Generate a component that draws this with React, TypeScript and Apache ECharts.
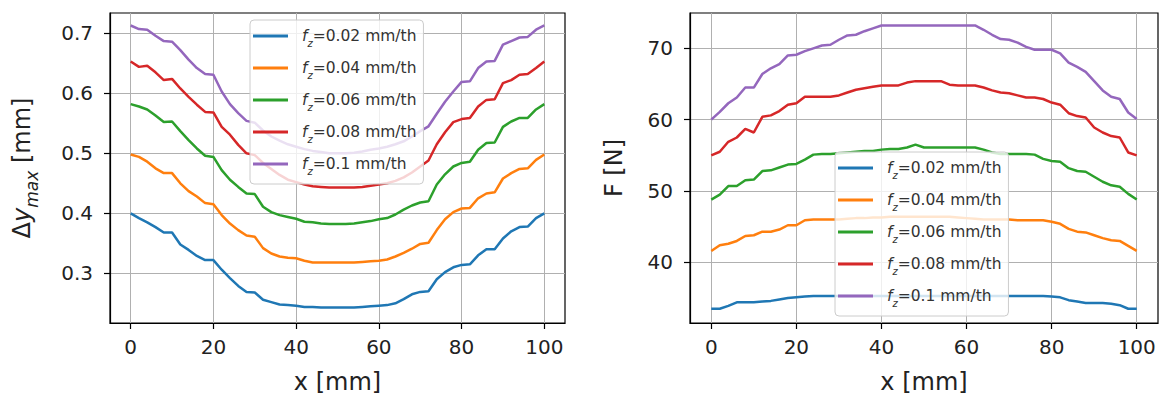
import React, { useEffect, useRef } from "react";
import * as echarts from "echarts";

const xPositions = [0, 2, 4, 6, 8, 10, 12, 14, 16, 18, 20, 22, 24, 26, 28, 30, 32, 34, 36, 38, 40, 42, 44, 46, 48, 50, 52, 54, 56, 58, 60, 62, 64, 66, 68, 70, 72, 74, 76, 78, 80, 82, 84, 86, 88, 90, 92, 94, 96, 98, 100];

const feedLabels = ["fz=0.02 mm/th", "fz=0.04 mm/th", "fz=0.06 mm/th", "fz=0.08 mm/th", "fz=0.1 mm/th"];
const colors = ["#1f77b4", "#ff7f0e", "#2ca02c", "#d62728", "#9467bd"];

// Δy_max [mm]
const dy002 = [0.400, 0.392, 0.385, 0.377, 0.368, 0.368, 0.348, 0.339, 0.329, 0.322, 0.322, 0.306, 0.292, 0.279, 0.269, 0.268, 0.256, 0.252, 0.248, 0.247, 0.246, 0.244, 0.244, 0.243, 0.243, 0.243, 0.243, 0.243, 0.244, 0.245, 0.246, 0.247, 0.250, 0.257, 0.265, 0.269, 0.270, 0.290, 0.302, 0.310, 0.314, 0.315, 0.330, 0.340, 0.340, 0.358, 0.370, 0.377, 0.378, 0.392, 0.400];
const dy004 = [0.498, 0.494, 0.486, 0.475, 0.467, 0.467, 0.450, 0.437, 0.428, 0.417, 0.415, 0.397, 0.383, 0.372, 0.363, 0.361, 0.342, 0.333, 0.328, 0.326, 0.325, 0.321, 0.318, 0.318, 0.318, 0.318, 0.318, 0.318, 0.319, 0.320, 0.321, 0.323, 0.328, 0.334, 0.341, 0.349, 0.351, 0.372, 0.390, 0.402, 0.408, 0.409, 0.425, 0.433, 0.435, 0.458, 0.467, 0.474, 0.475, 0.489, 0.498];
const dy006 = [0.582, 0.578, 0.573, 0.563, 0.552, 0.553, 0.537, 0.522, 0.508, 0.496, 0.494, 0.472, 0.456, 0.444, 0.433, 0.432, 0.411, 0.402, 0.397, 0.394, 0.391, 0.386, 0.385, 0.383, 0.382, 0.382, 0.382, 0.383, 0.385, 0.387, 0.390, 0.392, 0.398, 0.406, 0.413, 0.418, 0.420, 0.448, 0.465, 0.478, 0.484, 0.486, 0.506, 0.517, 0.518, 0.544, 0.553, 0.559, 0.559, 0.573, 0.582];
const dy008 = [0.653, 0.644, 0.646, 0.635, 0.622, 0.624, 0.608, 0.594, 0.581, 0.569, 0.568, 0.544, 0.531, 0.514, 0.500, 0.497, 0.484, 0.474, 0.464, 0.456, 0.452, 0.448, 0.445, 0.444, 0.443, 0.443, 0.443, 0.443, 0.444, 0.446, 0.448, 0.450, 0.454, 0.460, 0.468, 0.478, 0.488, 0.515, 0.535, 0.552, 0.557, 0.559, 0.578, 0.589, 0.590, 0.617, 0.622, 0.631, 0.632, 0.642, 0.653];
const dy010 = [0.713, 0.707, 0.706, 0.696, 0.687, 0.686, 0.672, 0.656, 0.642, 0.632, 0.631, 0.603, 0.582, 0.567, 0.554, 0.551, 0.538, 0.528, 0.521, 0.515, 0.511, 0.507, 0.504, 0.502, 0.500, 0.500, 0.500, 0.501, 0.503, 0.506, 0.508, 0.511, 0.515, 0.520, 0.528, 0.537, 0.545, 0.566, 0.586, 0.603, 0.619, 0.620, 0.642, 0.653, 0.654, 0.681, 0.687, 0.693, 0.694, 0.706, 0.713];

// F [N]
const f002 = [33.5, 33.5, 33.9, 34.4, 34.4, 34.4, 34.5, 34.6, 34.8, 35.0, 35.1, 35.2, 35.3, 35.3, 35.3, 35.3, 35.3, 35.3, 35.3, 35.3, 35.3, 35.3, 35.3, 35.3, 35.3, 35.3, 35.3, 35.3, 35.3, 35.3, 35.3, 35.3, 35.3, 35.3, 35.3, 35.3, 35.3, 35.3, 35.3, 35.3, 35.2, 35.1, 34.7, 34.5, 34.3, 34.3, 34.3, 34.2, 34.0, 33.5, 33.5];
const f004 = [41.6, 42.4, 42.6, 43.0, 43.7, 43.8, 44.3, 44.3, 44.6, 45.2, 45.2, 45.9, 46.0, 46.0, 46.0, 46.0, 46.1, 46.2, 46.2, 46.3, 46.3, 46.4, 46.4, 46.4, 46.4, 46.4, 46.4, 46.4, 46.4, 46.3, 46.2, 46.1, 46.0, 46.0, 46.0, 46.0, 45.9, 45.9, 45.9, 45.9, 45.7, 45.4, 44.7, 44.3, 44.2, 43.8, 43.4, 43.1, 43.0, 42.3, 41.6];
const f006 = [48.8, 49.5, 50.7, 50.7, 51.5, 51.6, 52.8, 52.9, 53.3, 53.7, 53.8, 54.4, 55.1, 55.2, 55.2, 55.3, 55.4, 55.5, 55.6, 55.6, 55.8, 55.9, 55.9, 56.1, 56.5, 56.1, 56.1, 56.1, 56.1, 56.1, 56.1, 56.1, 55.8, 55.4, 55.2, 55.2, 55.2, 55.2, 55.1, 54.5, 54.2, 54.1, 53.2, 52.8, 52.7, 52.0, 51.3, 50.8, 50.6, 49.6, 48.8];
const f008 = [55.0, 55.5, 56.9, 57.5, 58.7, 58.2, 60.4, 60.6, 61.2, 62.1, 62.3, 63.2, 63.2, 63.2, 63.2, 63.4, 63.8, 64.2, 64.4, 64.6, 64.8, 64.8, 64.8, 65.2, 65.4, 65.4, 65.4, 65.4, 64.9, 64.8, 64.8, 64.8, 64.5, 64.1, 63.8, 63.7, 63.4, 63.1, 63.1, 62.9, 62.4, 62.1, 60.9, 60.5, 60.3, 58.9, 58.2, 57.7, 57.5, 55.4, 55.0];
const f010 = [60.0, 61.1, 62.3, 63.1, 64.5, 64.5, 66.4, 67.2, 67.8, 69.0, 69.1, 69.6, 70.0, 70.4, 70.5, 71.2, 71.8, 71.9, 72.4, 72.8, 73.2, 73.2, 73.2, 73.2, 73.2, 73.2, 73.2, 73.2, 73.2, 73.2, 73.2, 73.2, 72.6, 71.9, 71.3, 71.2, 70.8, 70.2, 69.8, 69.8, 69.8, 69.3, 68.0, 67.4, 66.7, 65.4, 64.1, 63.2, 62.9, 61.0, 60.1];

const xTicks = [0, 20, 40, 60, 80, 100];
const dyTicks = [0.3, 0.4, 0.5, 0.6, 0.7];
const fTicks = [40, 50, 60, 70];

const FONT = "DejaVu Sans";
const TXT = "#222";

export default function App() {
  const ref = useRef<HTMLDivElement>(null);
  useEffect(() => {
    if (!ref.current) return;
    const chart = echarts.init(ref.current, null, { renderer: "svg" });
    const pair = (ys: number[]) => xPositions.map((x, i) => [x, ys[i]]);
    const dySets = [dy002, dy004, dy006, dy008, dy010];
    const fSets = [f002, f004, f006, f008, f010];

    const mkX = (gi: number) => ({
      gridIndex: gi,
      type: "value",
      min: -5,
      max: 105,
      axisLine: { show: true, onZero: false, lineStyle: { color: "#000", width: 1.2 } },
      axisTick: { show: true, inside: false, length: 6, customValues: xTicks, lineStyle: { color: "#000", width: 1.2 } },
      axisLabel: { customValues: xTicks, margin: 14, fontSize: 20, color: TXT, fontFamily: FONT },
      splitLine: { show: true, lineStyle: { color: "#b0b0b0", width: 1 } },
      name: "x [mm]",
      nameLocation: "middle",
      nameGap: 47,
      nameTextStyle: { fontSize: 24, color: TXT, fontFamily: FONT },
    });
    const mkY = (gi: number, min: number, max: number, ticks: number[], fmt: (v: number) => string, name: string, gap: number, rich: any) => ({
      gridIndex: gi,
      type: "value",
      min,
      max,
      axisLine: { show: true, onZero: false, lineStyle: { color: "#000", width: 1.2 } },
      axisTick: { show: true, inside: false, length: 6, customValues: ticks, lineStyle: { color: "#000", width: 1.2 } },
      axisLabel: { customValues: ticks, margin: 17, fontSize: 20, color: TXT, fontFamily: FONT, formatter: fmt },
      splitLine: { show: true, lineStyle: { color: "#b0b0b0", width: 1 } },
      name,
      nameLocation: "middle",
      nameGap: gap,
      nameTextStyle: { fontSize: 24, color: TXT, fontFamily: FONT, rich },
    });

    const legendRich = {
      f: { fontSize: 15.5, fontStyle: "italic", fontFamily: FONT, color: "#333", verticalAlign: "middle", lineHeight: 22 },
      z: { fontSize: 10, fontStyle: "italic", fontFamily: FONT, color: "#333", verticalAlign: "bottom", lineHeight: 24 },
      t: { fontSize: 15.5, fontFamily: FONT, color: "#333", verticalAlign: "middle", lineHeight: 22 },
    };
    const legendFmt = (name: string) => `{f|f}{z|z}{t|${name.slice(2)}}`;
    const mkLegend = (left: number, top: number) => ({
      orient: "vertical",
      left,
      top,
      data: feedLabels,
      icon: "rect",
      itemWidth: 35,
      itemHeight: 3,
      itemGap: 12,
      padding: [8, 7, 8, 3],
      backgroundColor: "rgba(255,255,255,0.8)",
      borderColor: "#cccccc",
      borderWidth: 1,
      borderRadius: 4,
      formatter: legendFmt,
      textStyle: { rich: legendRich, padding: [0, 0, 0, 9] },
    });

    const series: any[] = [];
    dySets.forEach((ys, i) =>
      series.push({
        type: "line",
        name: feedLabels[i],
        xAxisIndex: 0,
        yAxisIndex: 0,
        data: pair(ys),
        symbol: "none",
        showSymbol: false,
        lineStyle: { width: 2.5, color: colors[i] },
        itemStyle: { color: colors[i] },
      })
    );
    fSets.forEach((ys, i) =>
      series.push({
        type: "line",
        name: feedLabels[i],
        xAxisIndex: 1,
        yAxisIndex: 1,
        data: pair(ys),
        symbol: "none",
        showSymbol: false,
        lineStyle: { width: 2.5, color: colors[i] },
        itemStyle: { color: colors[i] },
      })
    );

    chart.setOption({
      animation: false,
      backgroundColor: "#fff",
      textStyle: { fontFamily: FONT },
      grid: [
        { left: 110, top: 13, width: 455, height: 310, show: true, borderColor: "#000", borderWidth: 1.2, backgroundColor: "transparent" },
        { left: 690, top: 13, width: 468, height: 310, show: true, borderColor: "#000", borderWidth: 1.2, backgroundColor: "transparent" },
      ],
      xAxis: [mkX(0), mkX(1)],
      yAxis: [
        mkY(0, 0.2172, 0.7338, dyTicks, (v: number) => v.toFixed(1), "{a|Δ}{i|y}{s|max}{a| [mm]}", 70, {
          a: { fontSize: 24, fontFamily: FONT, color: TXT, lineHeight: 28 },
          i: { fontSize: 24, fontFamily: FONT, color: TXT, fontStyle: "italic", lineHeight: 28 },
          s: { fontSize: 17, fontFamily: FONT, color: TXT, fontStyle: "italic", verticalAlign: "bottom", lineHeight: 36 },
        }),
        mkY(1, 31.5, 74.95, fTicks, (v: number) => String(v), "F [N]", 64, undefined),
      ],
      legend: [mkLegend(250, 20), mkLegend(835, 152)],
      series,
    });
    return () => chart.dispose();
  }, []);
  return <div ref={ref} style={{ position: "absolute", left: 0, top: 0, width: 1166, height: 401 }} />;
}
